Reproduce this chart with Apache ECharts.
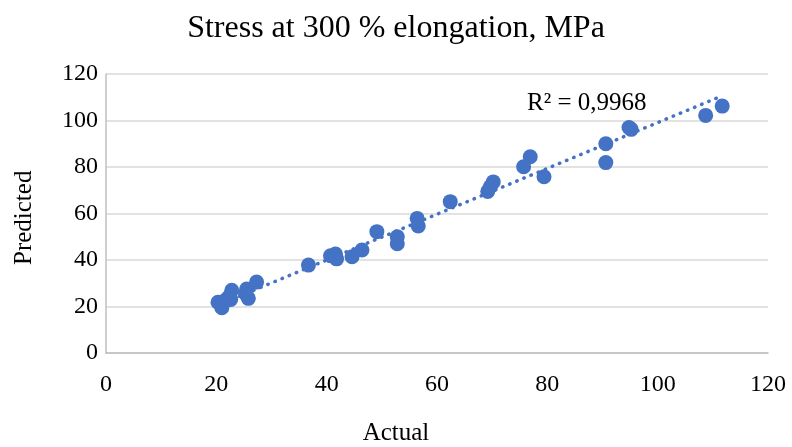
<!DOCTYPE html>
<html>
<head>
<meta charset="utf-8">
<script src="https://cdn.jsdelivr.net/npm/echarts@6/dist/echarts.min.js"></script>
<style>
    html, body { margin: 0; padding: 0; background: #fff; }
    #chart { width: 792px; height: 447px; }
</style>
</head>
<body>
<div id="chart"></div>
<script>
// actual vs predicted values
const actual = [
    20.3, 21.0, 21.5, 22.2, 22.8, 22.6, 25.5, 25.8, 25.3, 27.3,
    36.7, 40.7, 41.6, 41.8, 44.6, 46.4, 49.1, 52.8, 52.8, 56.4,
    56.6, 62.4, 69.2, 69.7, 70.2, 75.7, 76.9, 79.4, 90.6, 90.6,
    94.8, 95.2, 108.7, 111.7
];
const predicted = [
    21.8, 19.5, 22.5, 24.0, 27.0, 23.0, 27.5, 23.5, 25.5, 30.5,
    37.8, 41.8, 42.6, 40.5, 41.4, 44.3, 52.2, 50.0, 47.0, 57.9,
    54.6, 65.1, 69.5, 71.6, 73.6, 80.1, 84.4, 75.8, 90.0, 81.9,
    97.0, 96.2, 102.2, 106.2
];
const xTicks = [0, 20, 40, 60, 80, 100, 120];
const yTicks = [0, 20, 40, 60, 80, 100, 120];

// linear trendline as shown in the picture
const trendSlope = 0.985;
const trendIntercept = 0.6;
const trendRange = [20.3, 111.7];
const r2Label = 'R² = 0,9968';

(function(){
    let font = '"Liberation Serif", "Times New Roman", serif';
    let blue = '#4472C4';

    let points = actual.map((a, i) => [a, predicted[i]]);
    let trend = trendRange.map((x) => [x, trendSlope * x + trendIntercept]);

    let chart = echarts.init(document.getElementById('chart'));
    chart.setOption({
        animation: false,
        title: {
            text: 'Stress at 300 % elongation, MPa',
            left: 'center',
            top: 8,
            textStyle: { fontFamily: font, fontSize: 32, fontWeight: 'normal', color: '#000' }
        },
        grid: { left: 106, right: 24, top: 74, bottom: 94 },
        xAxis: {
            type: 'value',
            min: xTicks[0],
            max: xTicks[xTicks.length - 1],
            interval: 20,
            splitLine: { show: false },
            axisTick: { show: false },
            axisLine: { lineStyle: { color: '#BFBFBF', width: 1.5 } },
            axisLabel: { fontFamily: font, fontSize: 24, color: '#000', margin: 20 }
        },
        yAxis: {
            type: 'value',
            min: yTicks[0],
            max: yTicks[yTicks.length - 1],
            interval: 20,
            splitLine: { lineStyle: { color: '#D9D9D9', width: 1.5 } },
            axisTick: { show: false },
            axisLine: { show: true, lineStyle: { color: '#BFBFBF', width: 1.5 } },
            axisLabel: { fontFamily: font, fontSize: 24, color: '#000', margin: 8 }
        },
        graphic: [
            {
                type: 'text',
                left: 'center',
                top: 421,
                style: { text: 'Actual', font: '25px ' + font, fill: '#000' }
            },
            {
                type: 'text',
                x: 12,
                y: 265,
                rotation: Math.PI / 2,
                style: { text: 'Predicted', font: '25px ' + font, fill: '#000' }
            }
        ],
        series: [
            {
                type: 'scatter',
                data: points,
                symbolSize: 15,
                itemStyle: { color: blue, opacity: 1 },
                z: 3
            },
            {
                type: 'line',
                data: trend,
                symbol: 'none',
                lineStyle: { color: blue, width: 3.5, type: [0.5, 7.2], cap: 'round' },
                z: 2,
                markPoint: {
                    symbol: 'rect',
                    symbolSize: 0,
                    data: [{ coord: [75.4, 107.5], value: r2Label }],
                    label: {
                        show: true,
                        formatter: r2Label,
                        fontFamily: font,
                        fontSize: 25,
                        color: '#000',
                        position: 'right',
                        offset: [0, 0]
                    }
                }
            }
        ]
    });

    window.addEventListener('resize', function(){
        chart.resize();
    });
})();
</script>
</body>
</html>
